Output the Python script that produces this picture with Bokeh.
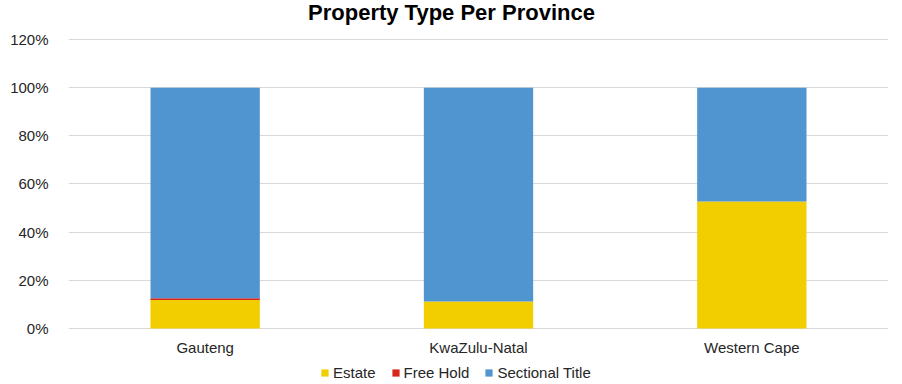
from bokeh.plotting import figure
from bokeh.models import ColumnDataSource, FixedTicker, NumeralTickFormatter, Legend, Range1d
from bokeh.core.properties import value
from bokeh.embed import file_html
from bokeh.resources import INLINE

title_text = "Property Type Per Province"
provinces = ["Gauteng", "KwaZulu-Natal", "Western Cape"]
series = ["Estate", "Free Hold", "Sectional Title"]
estate = [0.118, 0.112, 0.527]
free_hold = [0.008, 0.0, 0.0]
sectional_title = [0.874, 0.888, 0.473]
colors = ["#F2CD00", "#D9261C", "#5095D0"]
y_ticks = [0, 0.2, 0.4, 0.6, 0.8, 1.0, 1.2]

source = ColumnDataSource(dict(province=provinces, Estate=estate,
                               **{"Free Hold": free_hold, "Sectional Title": sectional_title}))

# extra room below zero hosts category labels and legend; room above 120% hosts the title
p = figure(x_range=provinces, y_range=Range1d(-0.2324, 1.3618), width=902, height=384,
           output_backend="svg", toolbar_location=None,
           min_border_left=68, min_border_right=14, min_border_top=0, min_border_bottom=0)

renderers = p.vbar_stack(series, x="province", width=0.4, color=colors, source=source, line_width=0)

label_src = ColumnDataSource(dict(province=provinces, y=[-0.077] * len(provinces)))
p.text(x="province", y="y", text="province", source=label_src,
       text_font=value("Liberation Sans"), text_font_size="15px", text_color="#262626",
       text_align="center", text_baseline="middle")

title_src = ColumnDataSource(dict(x=[len(provinces) / 2], y=[1.312], t=[title_text]))
p.text(x="x", y="y", text="t", source=title_src, x_offset=-27,
       text_font=value("Liberation Sans"), text_font_size="22px", text_font_style="bold",
       text_color="#000000", text_align="center", text_baseline="middle")

p.xaxis.visible = False
p.yaxis.ticker = FixedTicker(ticks=y_ticks)
p.ygrid.ticker = FixedTicker(ticks=y_ticks)
p.yaxis.formatter = NumeralTickFormatter(format="0%")
p.yaxis.axis_line_color = None
p.yaxis.major_tick_line_color = None
p.yaxis.minor_tick_line_color = None
p.yaxis.major_label_text_font = "Liberation Sans"
p.yaxis.major_label_text_font_size = "15px"
p.yaxis.major_label_text_color = "#262626"
p.yaxis.major_label_standoff = 14

p.xgrid.grid_line_color = None
p.ygrid.grid_line_color = "#D9D9D9"
p.ygrid.grid_line_width = 1
p.outline_line_color = None

legend = Legend(items=[(s, [r]) for s, r in zip(series, renderers)], orientation="horizontal",
                location=(252, 3), border_line_color=None, background_fill_alpha=0,
                label_text_font="Liberation Sans", label_text_font_size="15px",
                label_text_color="#262626", glyph_width=9, glyph_height=9,
                spacing=15, padding=0, margin=0, label_standoff=4)
p.add_layout(legend, "center")

open("out.html", "w").write(file_html(p, INLINE))
